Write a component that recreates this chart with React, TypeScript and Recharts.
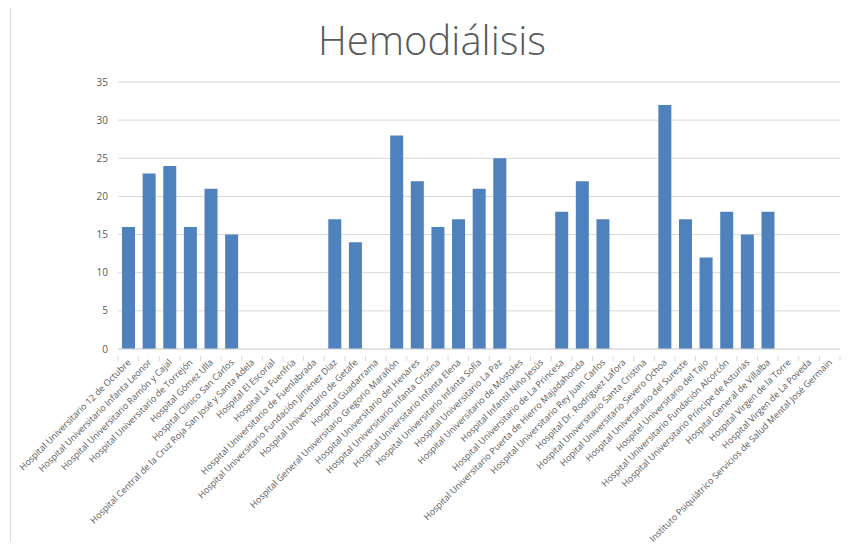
import React from 'react';
import { BarChart, Bar, XAxis, YAxis, CartesianGrid } from 'recharts';

// hospitals, in the order of the source chart
const hospitals = [
  'Hospital Universitario 12 de Octubre',
  'Hospital Universitario Infanta Leonor',
  'Hospital Universitario Ramón y Cajal',
  'Hospital Universitario de Torrejón',
  'Hospital Gómez Ulla',
  'Hospital Clínico San Carlos',
  'Hospital Central de la Cruz Roja San José y Santa Adela',
  'Hospital El Escorial',
  'Hospital La Fuenfría',
  'Hospital Universitario de Fuenlabrada',
  'Hospital Universitario Fundación Jiménez Díaz',
  'Hospital Universitario de Getafe',
  'Hospital Guadarrama',
  'Hospital General Universitario Gregorio Marañón',
  'Hospital Universitario del Henares',
  'Hospital Universitario Infanta Cristina',
  'Hospital Universitario Infanta Elena',
  'Hospital Universitario Infanta Sofía',
  'Hospital Universitario La Paz',
  'Hospital Universitario de Móstoles',
  'Hospital Infantil Niño Jesús',
  'Hospital Universitario de La Princesa',
  'Hospital Universitario Puerta de Hierro Majadahonda',
  'Hospital Universitario Rey Juan Carlos',
  'Hospital Dr. Rodríguez Lafora',
  'Hospital Universitario Santa Cristina',
  'Hopital Universitario Severo Ochoa',
  'Hospital Universitario del Sureste',
  'Hospitel Universitario del Tajo',
  'Hospital Universitario Fundación Alcorcón',
  'Hospital Universitario Príncipe de Asturias',
  'Hospital General de Villalba',
  'Hospital Virgen de la Torre',
  'Hospital Virgen de La Poveda',
  'Instituto Psiquiátrico Servicios de Salud Mental José Germain',
];

const hemodialisis = [
  16, 23, 24, 16, 21, 15, 0, 0, 0, 0, 17, 14, 0, 28, 22, 16, 17, 21, 25, 0,
  0, 18, 22, 17, 0, 0, 32, 17, 12, 18, 15, 18, 0, 0, 0,
];

const yTicks = [0, 5, 10, 15, 20, 25, 30, 35];

const data = hospitals.map((name, i) => ({ name, value: hemodialisis[i] }));

const GRAY = '#595959';
const LINE = '#d9d9d9';
const FONT = '"Open Sans", sans-serif';

const W = 852;
const H = 550;
const LEFT = 118;
const RIGHT = 12;
const band = (W - LEFT - RIGHT) / hospitals.length;

const HospitalTick = (props: any) => {
  const { x, y, payload, index } = props;
  return (
    <g>
      <line x1={x - band / 2} x2={x - band / 2} y1={y - 1} y2={y + 4} stroke={LINE} />
      {index === hospitals.length - 1 && (
        <line x1={x + band / 2} x2={x + band / 2} y1={y - 1} y2={y + 4} stroke={LINE} />
      )}
      <text
        x={x + 3}
        y={y + 6}
        transform={`rotate(-45, ${x + 3}, ${y + 6})`}
        textAnchor="end"
        fontSize={9}
        fill={GRAY}
        fontFamily={FONT}
      >
        {payload.value}
      </text>
    </g>
  );
};

const App: React.FC = () => {
  return (
    <div style={{ position: 'relative', margin: -8, width: W, height: H, background: '#fff', overflow: 'hidden' }}>
      <div
        style={{
          position: 'absolute',
          left: 10,
          top: 3,
          width: W,
          height: H,
          border: '1px solid #d9d9d9',
        }}
      />
      <div
        style={{
          position: 'absolute',
          top: 12,
          left: 0,
          width: 864,
          textAlign: 'center',
          fontFamily: FONT,
          fontSize: 40,
          fontWeight: 300,
          color: GRAY,
        }}
      >
        Hemodiálisis
      </div>
      <BarChart
        width={W}
        height={H}
        data={data}
        margin={{ top: 82, right: RIGHT, left: 0, bottom: 0 }}
        style={{ position: 'absolute', left: 0, top: 0 }}
      >
        <CartesianGrid vertical={false} stroke={LINE} />
        <XAxis
          dataKey="name"
          interval={0}
          height={201}
          tickLine={false}
          axisLine={{ stroke: LINE }}
          tick={<HospitalTick />}
        />
        <YAxis
          width={LEFT}
          domain={[0, 35]}
          ticks={yTicks}
          axisLine={false}
          tickLine={false}
          tickMargin={4}
          tick={{ fontSize: 10, fill: GRAY, fontFamily: FONT }}
        />
        <Bar dataKey="value" fill="#4f81bd" barSize={13} isAnimationActive={false} />
      </BarChart>
    </div>
  );
};

export default App;
